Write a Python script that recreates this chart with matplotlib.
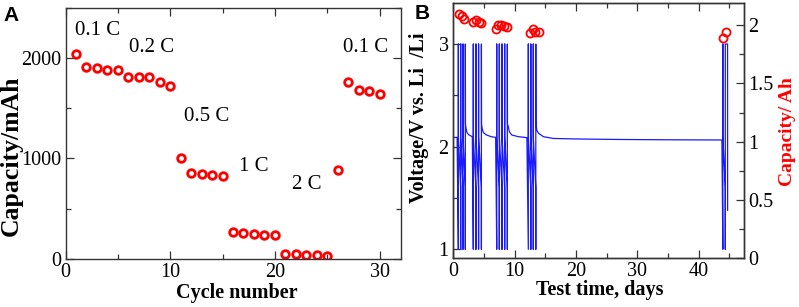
import matplotlib
matplotlib.use("Agg")
import matplotlib.pyplot as plt
from matplotlib.ticker import MultipleLocator

# ---------------- data: panel A ----------------
cycles = list(range(1, 31))
capacity_mAh = [2040, 1910, 1900, 1880, 1880, 1810, 1810, 1810, 1760, 1720,
                1000, 850, 845, 835, 825,
                270, 255, 245, 235, 240,
                50, 45, 40, 40, 25,
                880,
                1765, 1680, 1670, 1640]
rate_labels = ["0.1 C", "0.2 C", "0.5 C", "1 C", "2 C", "0.1 C"]
rate_label_x = [3.05, 8.25, 13.5, 17.95, 23.0, 28.7]
rate_label_y = [2231, 2060, 1373, 876, 694, 2060]

# ---------------- data: panel B ----------------
cap_time_days = [0.90, 1.36, 1.80,
                 3.16, 3.70, 4.13, 4.57,
                 6.96, 7.29, 7.72, 8.27, 8.81,
                 12.48, 12.97, 13.35, 13.90,
                 43.90, 44.50]
cap_Ah = [2.094, 2.077, 2.057,
          2.028, 2.043, 2.028, 2.020,
          1.971, 2.000, 2.003, 1.990, 1.985,
          1.934, 1.963, 1.943, 1.940,
          1.886, 1.937]

V_MIN, V_MAX = 1.0, 3.0
PLATEAU_V, KNEE_V = 2.10, 1.60

rest0_t = [0.0, 0.62]
rest0_v = [2.09, 2.09]

group_lines = [
    [0.82, 1.20, 1.58, 1.96],
    [3.26, 3.68, 4.12, 4.58],
    [7.08, 7.50, 7.94, 8.38, 8.81],
    [12.23, 12.64, 13.04, 13.45],
    [43.95, 44.35],
]
relax_t = [
    [1.98, 2.07, 2.23, 2.56, 3.10],
    [4.60, 4.72, 4.92, 5.40, 6.20, 6.90],
    [8.83, 8.97, 9.13, 9.52, 10.6, 11.7, 12.0],
    [13.47, 13.60, 13.90, 14.70, 16.3, 20.0, 27.2, 35.0, 43.8],
    [44.72, 44.73],
]
relax_v = [
    [2.22, 2.18, 2.136, 2.114, 2.097],
    [2.22, 2.17, 2.136, 2.114, 2.097, 2.09],
    [2.22, 2.195, 2.146, 2.114, 2.097, 2.09, 2.088],
    [2.25, 2.16, 2.13, 2.097, 2.08, 2.075, 2.07, 2.067, 2.065],
    [3.0, 1.38],
]


def build_trace():
    t, v = list(rest0_t), list(rest0_v)
    for lines, rt, rv in zip(group_lines, relax_t, relax_v):
        prev = None
        for tl in lines:
            if prev is not None:
                t += [prev, tl]
                v += [PLATEAU_V, KNEE_V]
            t += [tl, tl]
            v += [V_MIN, V_MAX]
            prev = tl
        t += rt
        v += rv
    return t, v


volt_t, volt_v = build_trace()

# ---------------- figure ----------------
plt.rcParams['font.family'] = ['Liberation Serif', 'DejaVu Serif']

W, H = 799, 307
fig = plt.figure(figsize=(W / 100, H / 100), dpi=100)


def fx(px):
    return px / W


def fy(py):
    return 1 - py / H


spine_col = '#333333'
TICK_FS = 14.5
LAB_FS = 14.5


def style_axes(ax, top=True, right=True):
    for s in ax.spines.values():
        s.set_color(spine_col)
        s.set_linewidth(1.0)
    ax.tick_params(which='both', direction='in', top=top, right=right,
                   colors=spine_col, labelcolor='black', labelsize=TICK_FS, width=0.9)
    ax.tick_params(which='major', length=6, pad=3)
    ax.tick_params(which='minor', length=3.5)


# Panel A
axA = fig.add_axes([fx(65.5), fy(258.7), fx(400.5 - 65.5), (258.7 - 8) / H])
axA.plot(cycles, capacity_mAh, linestyle='none', marker='o', ms=5.5,
         mfc='none', mec='#ff0000', mew=2.0)
axA.set_xlim(0, 32)
axA.set_ylim(0, 2500)
axA.xaxis.set_major_locator(MultipleLocator(10))
axA.xaxis.set_minor_locator(MultipleLocator(5))
axA.yaxis.set_major_locator(MultipleLocator(1000))
axA.yaxis.set_minor_locator(MultipleLocator(500))
style_axes(axA)
for lab, x, y in zip(rate_labels, rate_label_x, rate_label_y):
    axA.text(x, y, lab, ha='center', va='baseline', fontsize=15)

fig.text(fx(11), fy(156), 'Capacity/mAh', rotation=90, ha='center', va='center',
         fontsize=18.5, fontweight='bold')
fig.text(fx(236.5), fy(293), 'Cycle number', ha='center', va='center',
         fontsize=LAB_FS, fontweight='bold')
fig.text(fx(3), fy(21), 'A', ha='left', va='baseline', fontsize=15,
         fontweight='bold', family='Liberation Sans')

# Panel B
axB = fig.add_axes([fx(452.7), fy(258.3), fx(744 - 452.7), (258.3 - 3) / H])
axB.plot(volt_t, volt_v, color='#1a1aff', lw=0.9)
axB.set_xlim(-0.1, 47.4)
axB.set_ylim(0.912, 3.40)
axB.xaxis.set_major_locator(MultipleLocator(10))
axB.xaxis.set_minor_locator(MultipleLocator(5))
axB.yaxis.set_major_locator(MultipleLocator(1))
axB.yaxis.set_minor_locator(MultipleLocator(0.5))
style_axes(axB, top=True, right=False)

axB2 = axB.twinx()
axB2.plot(cap_time_days, cap_Ah, linestyle='none', marker='o', ms=5.8,
          mfc='none', mec='#ff0000', mew=1.3)
axB2.set_ylim(0, 2.19)
axB2.yaxis.set_major_locator(MultipleLocator(0.5))
axB2.yaxis.set_minor_locator(MultipleLocator(0.25))
axB2.yaxis.set_major_formatter(plt.FuncFormatter(lambda v, p: f"{v:g}"))
style_axes(axB2, top=False, right=True)
axB2.tick_params(which='both', left=False)

fig.text(fx(419.5), fy(117.5), 'Voltage/V vs. Li  /Li', rotation=90, ha='center',
         va='center', fontsize=LAB_FS, fontweight='bold')
fig.text(fx(788), fy(131.5), 'Capacity/ Ah', rotation=90, ha='center', va='center',
         fontsize=14, fontweight='bold', color='#ff0000')
fig.text(fx(600), fy(290), 'Test time, days', ha='center', va='center',
         fontsize=LAB_FS, fontweight='bold')
fig.text(fx(415), fy(19), 'B', ha='left', va='baseline', fontsize=15,
         fontweight='bold', family='Liberation Sans')

fig.savefig('out.png', dpi=100)
